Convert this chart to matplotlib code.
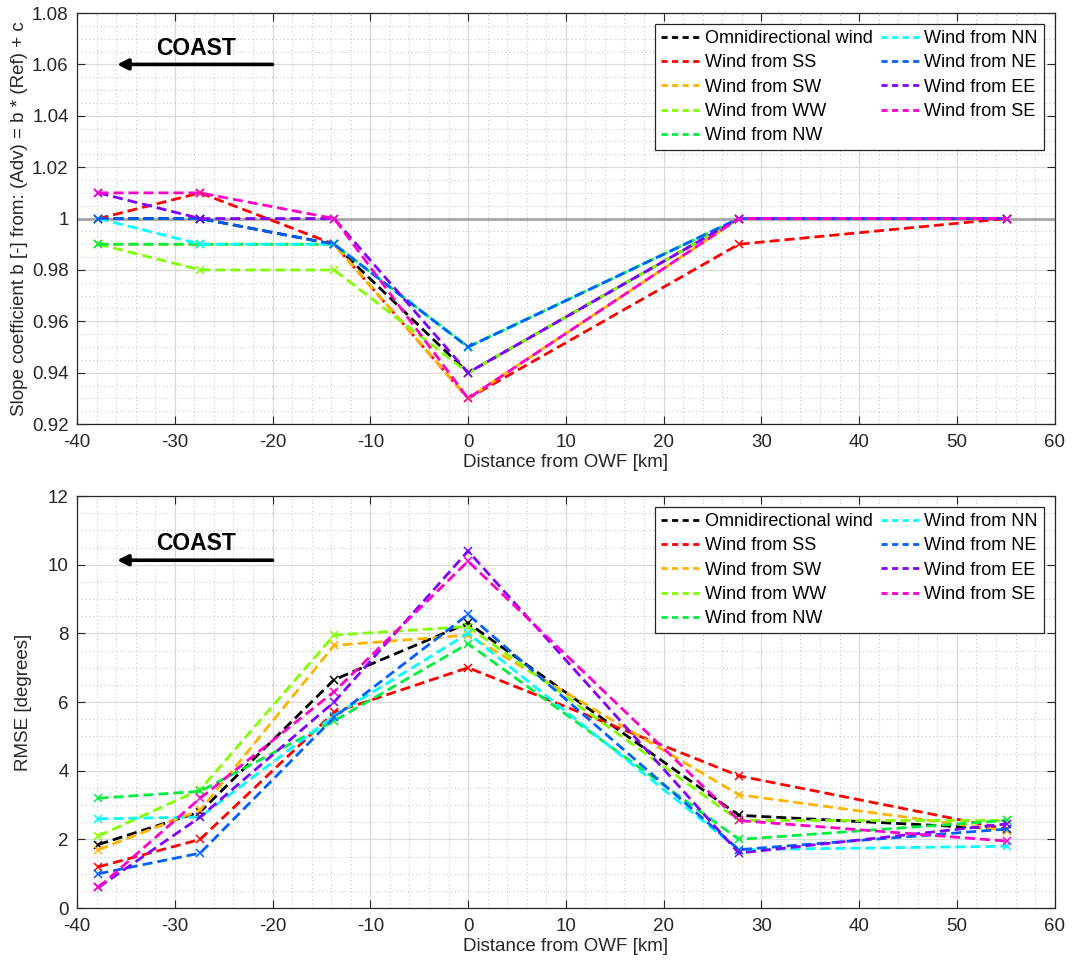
import matplotlib
matplotlib.use("Agg")
import matplotlib.pyplot as plt
from matplotlib.ticker import MultipleLocator, FuncFormatter

plt.rcParams['font.family'] = ['Liberation Sans', 'DejaVu Sans']

# Distance of each mast from the offshore wind farm [km]
distance = [-37.8, -27.4, -13.7, 0.0, 27.7, 55.1]

labels = ["Omnidirectional wind", "Wind from SS", "Wind from SW", "Wind from WW",
          "Wind from NW", "Wind from NN", "Wind from NE", "Wind from EE", "Wind from SE"]
colors = ["#000000", "#ff0000", "#ffb300", "#80ff00", "#00ee40",
          "#00ffff", "#0060ff", "#8000ff", "#ff00c8"]

# Slope coefficient b
slope_omni = [1.00, 1.00, 0.99, 0.94, 1.00, 1.00]
slope_ss = [1.00, 1.01, 0.99, 0.93, 0.99, 1.00]
slope_sw = [0.99, 0.99, 0.99, 0.93, 1.00, 1.00]
slope_ww = [0.99, 0.98, 0.98, 0.94, 1.00, 1.00]
slope_nw = [0.99, 0.99, 0.99, 0.95, 1.00, 1.00]
slope_nn = [1.00, 0.99, 0.99, 0.95, 1.00, 1.00]
slope_ne = [1.00, 1.00, 0.99, 0.95, 1.00, 1.00]
slope_ee = [1.01, 1.00, 1.00, 0.94, 1.00, 1.00]
slope_se = [1.01, 1.01, 1.00, 0.93, 1.00, 1.00]

# RMSE of wind direction [degrees]
rmse_omni = [1.85, 2.80, 6.65, 8.30, 2.70, 2.30]
rmse_ss = [1.20, 2.00, 5.70, 7.00, 3.85, 2.30]
rmse_sw = [1.70, 2.85, 7.65, 7.95, 3.30, 2.25]
rmse_ww = [2.10, 3.45, 7.95, 8.20, 2.55, 2.55]
rmse_nw = [3.20, 3.40, 5.45, 7.70, 2.00, 2.55]
rmse_nn = [2.60, 2.65, 5.60, 8.00, 1.70, 1.80]
rmse_ne = [1.00, 1.60, 5.55, 8.55, 1.70, 2.30]
rmse_ee = [0.60, 2.65, 6.00, 10.40, 1.60, 2.45]
rmse_se = [0.60, 3.20, 6.30, 10.10, 2.55, 1.95]

slopes = [slope_omni, slope_ss, slope_sw, slope_ww, slope_nw,
          slope_nn, slope_ne, slope_ee, slope_se]
rmses = [rmse_omni, rmse_ss, rmse_sw, rmse_ww, rmse_nw,
         rmse_nn, rmse_ne, rmse_ee, rmse_se]

fig = plt.figure(figsize=(10.75, 9.66), dpi=100)
ax1 = fig.add_axes([0.0716, 0.561, 0.9095, 0.4255])
ax2 = fig.add_axes([0.0716, 0.060, 0.9095, 0.4265])

axis_col = "#262626"
fmt = FuncFormatter(lambda v, p: f"{v:g}" if abs(v) > 1e-9 else "0")


def style_axes(ax, ylim, ymajor, yminor):
    ax.set_xlim(-40, 60)
    ax.set_ylim(*ylim)
    ax.xaxis.set_major_locator(MultipleLocator(10))
    ax.xaxis.set_minor_locator(MultipleLocator(2))
    ax.yaxis.set_major_locator(MultipleLocator(ymajor))
    ax.yaxis.set_minor_locator(MultipleLocator(yminor))
    ax.yaxis.set_major_formatter(fmt)
    ax.xaxis.set_major_formatter(fmt)
    ax.grid(which='major', color='#dadada', lw=0.9, ls='-')
    ax.grid(which='minor', color='#c8c8c8', lw=0.8, ls=(0, (1, 2.5)))
    ax.set_axisbelow(True)
    ax.tick_params(which='both', direction='in', top=True, right=True,
                   colors=axis_col, labelsize=13.5, labelcolor=axis_col)
    ax.tick_params(which='major', length=6, width=0.8)
    ax.tick_params(axis='x', which='major', pad=7)
    ax.tick_params(axis='y', which='major', pad=6)
    ax.tick_params(which='minor', length=0)
    for s in ax.spines.values():
        s.set_color(axis_col)
        s.set_linewidth(0.9)
    ax.set_xlabel("Distance from OWF [km]", fontsize=13.5, color=axis_col, labelpad=2)


def draw_series(ax, series):
    for i, (vals, lab, col) in enumerate(zip(series, labels, colors)):
        ax.plot(distance, vals, ls=(0, (3.6, 1.8)), lw=2.0, color=col,
                marker='x', ms=6, mew=1.1, label=lab, zorder=3 + i)
    leg = ax.legend(loc='upper right', ncol=2, prop={'size': 13}, frameon=True,
                    fancybox=False, framealpha=1, edgecolor=axis_col,
                    handlelength=2.3, handletextpad=0.1, columnspacing=0.45,
                    labelspacing=0.4, borderpad=0.35, borderaxespad=0.6)
    leg.get_frame().set_linewidth(0.9)
    for h in leg.get_lines():
        h.set_marker('')
        h.set_linestyle((0, (2.2, 1.6)))


def coast(ax, y_arrow, y_text):
    ax.annotate('', xy=(-35.9, y_arrow), xytext=(-20.0, y_arrow),
                arrowprops=dict(arrowstyle='-|>', lw=2.6, color='k',
                                mutation_scale=16, shrinkA=0, shrinkB=0),
                zorder=20)
    ax.text(-27.8, y_text, "COAST", fontsize=16.5, fontweight='bold',
            ha='center', va='baseline', color='k', zorder=20)


# Slope panel
style_axes(ax1, (0.92, 1.08), 0.02, 0.005)
ax1.axhline(1.0, color='#a6a6a6', lw=2.0, zorder=2)
draw_series(ax1, slopes)
coast(ax1, 1.06, 1.0637)
ax1.set_ylabel("Slope coefficient b [-] from: (Adv) = b * (Ref) + c",
               fontsize=13.5, color=axis_col, labelpad=3)

# RMSE panel
style_axes(ax2, (0, 12), 2, 0.5)
draw_series(ax2, rmses)
coast(ax2, 10.13, 10.43)
ax2.set_ylabel("RMSE [degrees]", fontsize=13.5, color=axis_col, labelpad=11)

fig.savefig("out.png", dpi=100)
